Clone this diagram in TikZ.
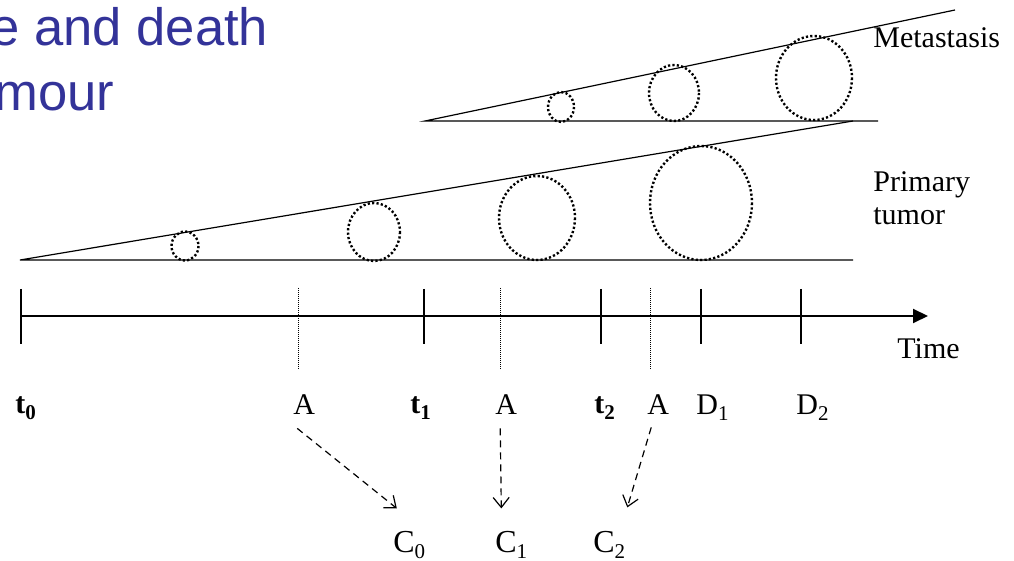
\documentclass[tikz,border=0pt]{standalone}
\usepackage{fontspec}
\setmainfont{Liberation Serif}
\newfontfamily\slidefont{Liberation Sans}
\usetikzlibrary{arrows.meta}
\definecolor{slideblue}{RGB}{51,51,153}
\newcommand{\lowidx}[1]{\raisebox{-3pt}{\fontsize{10.5}{12}\selectfont #1}}
\tikzset{
  lbl/.style={inner sep=0pt, anchor=base west, font=\fontsize{15}{18}\selectfont},
  clbl/.style={inner sep=0pt, anchor=base west, font=\fontsize{16}{19}\selectfont},
  headline/.style={inner sep=0pt, anchor=base west, text=slideblue, font=\slidefont\fontsize{26.3}{30}\selectfont},
  wedge/.style={line width=0.6pt},
  cell/.style={line width=1.2pt, dash pattern=on 1.1pt off 1.1pt},
  timetick/.style={line width=1pt},
  event/.style={line width=0.5pt, dash pattern=on 0.5pt off 0.5pt},
  spread/.style={line width=0.6pt, dash pattern=on 3.5pt off 2.5pt, -{Straight Barb[length=5pt,width=8pt]}}
}
\begin{document}
\begin{tikzpicture}[x=0.5pt,y=-0.5pt]
  \useasboundingbox (0,0) rectangle (1014,561);
  \node[headline] (head1) at (-10,46) {e and death};
  \node[headline] (head2) at (-6,111) {mour};

  \draw[wedge] (955,10) -- (425,121) -- (878,121);
  \draw[cell] (561,107) ellipse [x radius=13, y radius=15];
  \draw[cell] (674,93) ellipse [x radius=25, y radius=28];
  \draw[cell] (814,78) ellipse [x radius=38, y radius=42];
  \node[lbl] (meta) at (873,48) {Metastasis};

  \draw[wedge] (853,121) -- (20,260) -- (853,260);
  \draw[cell] (185,246) ellipse [x radius=13.5, y radius=14.5];
  \draw[cell] (374,232) ellipse [x radius=26, y radius=29];
  \draw[cell] (537,218) ellipse [x radius=38, y radius=42];
  \draw[cell] (701,203) ellipse [x radius=51, y radius=57];
  \node[lbl] (prim) at (873,192) {Primary};
  \node[lbl] (tum) at (873,225) {tumor};

  \draw[timetick, -{Triangle[length=7.5pt,width=7pt]}] (21,316) -- (928,316);
  \foreach \x in {21,424,601,701,801}
    \draw[timetick] (\x,289) -- (\x,344);
  \foreach \x in {298,500,650}
    \draw[event] (\x,288) -- (\x,370);
  \node[lbl] (time) at (897,359) {Time};

  \node[lbl] (t0) at (15,414) {\textbf{t}\lowidx{\textbf{0}}};
  \node[lbl] (a0) at (293,415) {A};
  \node[lbl] (t1) at (410,414) {\textbf{t}\lowidx{\textbf{1}}};
  \node[lbl] (a1) at (495,415) {A};
  \node[lbl] (t2) at (594,414) {\textbf{t}\lowidx{\textbf{2}}};
  \node[lbl] (a2) at (647,415) {A};
  \node[lbl] (d1) at (696,415) {D\lowidx{1}};
  \node[lbl] (d2) at (796,415) {D\lowidx{2}};

  \node[clbl] (c0) at (393,553) {C\lowidx{0}};
  \node[clbl] (c1) at (495,553) {C\lowidx{1}};
  \node[clbl] (c2) at (593,553) {C\lowidx{2}};

  \draw[spread] ([shift={(-3.5pt,-6.5pt)}]a0.south) -- ([shift={(-6.25pt,11.5pt)}]c0.north);
  \draw[spread] ([shift={(-3pt,-6.5pt)}]a1.south) -- ([shift={(-5pt,11.5pt)}]c1.north);
  \draw[spread] ([shift={(-3.5pt,-6pt)}]a2.south) -- ([shift={(9pt,12pt)}]c2.north);
\end{tikzpicture}
\end{document}
